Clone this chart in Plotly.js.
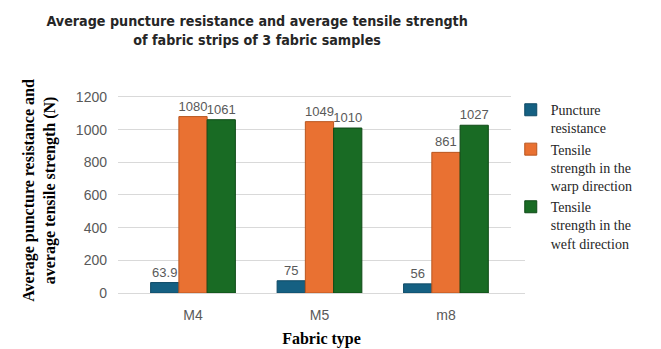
<!DOCTYPE html>
<html>
<head>
<meta charset="utf-8">
<script src="https://cdn.plot.ly/plotly-3.0.1.min.js"></script>
<style>html,body{margin:0;padding:0;background:#fff;}#chart{width:661px;height:349px;}</style>
</head>
<body>
<div id="chart"></div>
<script>
const categories = ["M4", "M5", "m8"];
const puncture = [63.9, 75, 56];
const warp = [1080, 1049, 861];
const weft = [1061, 1010, 1027];
const seriesNames = ["Puncture<br>resistance", "Tensile<br>strength in the<br>warp direction", "Tensile<br>strength in the<br>weft direction"];
const colors = ["#156082", "#E97132", "#196B24"];
const lineColors = ["#0f4a66", "#b9561f", "#0f4a17"];
const yTicks = [0, 200, 400, 600, 800, 1000, 1200];

const series = [puncture, warp, weft];
const traces = series.map((vals, i) => ({
  type: "bar",
  x: categories,
  y: vals,
  name: seriesNames[i],
  marker: {color: colors[i], line: {color: lineColors[i], width: 1}},
  text: vals.map(v => String(v)),
  textposition: "outside",
  constraintext: "none",
  textfont: {family: "Liberation Sans, Arial, sans-serif", size: 13, color: "#595959"},
  cliponaxis: false,
  hoverinfo: "skip"
}));

const layout = {
  width: 661, height: 349,
  margin: {l: 118, r: 136, t: 88, b: 56},
  paper_bgcolor: "#ffffff",
  plot_bgcolor: "#ffffff",
  barmode: "group",
  bargap: 0.33,
  bargroupgap: 0,
  showlegend: true,
  title: {
    text: "Average puncture resistance and average tensile strength<br>of fabric strips of 3 fabric samples",
    font: {family: "Liberation Sans Narrow, DejaVu Sans Condensed, Arial Narrow, sans-serif", size: 14.2, color: "#262626", weight: "bold"},
    x: 0.389, xref: "container", xanchor: "center",
    y: 0.925, yref: "container", yanchor: "top"
  },
  xaxis: {
    type: "category",
    range: [-0.593, 2.625],
    tickfont: {family: "Liberation Sans, Arial, sans-serif", size: 14, color: "#595959"},
    showline: false, ticks: "", showgrid: false,
    ticklabelstandoff: 12,
    title: {text: "Fabric type", font: {family: "Liberation Serif, Times New Roman, serif", size: 16, color: "#000000", weight: "bold"}, standoff: 10}
  },
  yaxis: {
    range: [0, 1255],
    tickvals: yTicks,
    ticktext: yTicks.map(String),
    tickfont: {family: "Liberation Sans, Arial, sans-serif", size: 14, color: "#595959"},
    showgrid: true, gridcolor: "#d9d9d9", gridwidth: 1,
    zeroline: true, zerolinecolor: "#d9d9d9",
    showline: false, ticks: "",
    ticklabelstandoff: 10,
    title: {text: "Average puncture resistance and<br>average tensile strength (N)", font: {family: "Liberation Serif, Times New Roman, serif", size: 16, color: "#000000", weight: "bold"}, standoff: 16}
  },
  legend: {
    x: 0.965, xanchor: "left", y: 0.97, yanchor: "top",
    valign: "top",
    font: {family: "Liberation Serif, Times New Roman, serif", size: 14, color: "#262626"},
    itemwidth: 30
  }
};

Plotly.newPlot("chart", traces, layout, {displayModeBar: false, staticPlot: true});
</script>
</body>
</html>
